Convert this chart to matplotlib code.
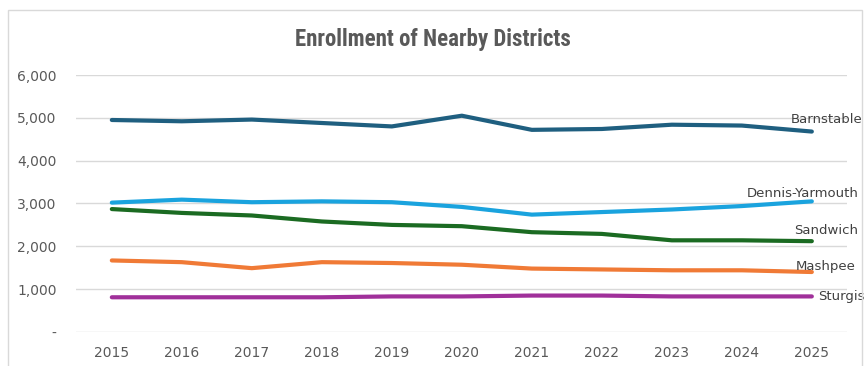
import matplotlib
matplotlib.use("Agg")
import matplotlib.pyplot as plt
from matplotlib.patches import Rectangle
from matplotlib.ticker import FuncFormatter

years = list(range(2015, 2026))
barnstable = [4950, 4920, 4960, 4880, 4800, 5050, 4720, 4740, 4840, 4820, 4680]
dennis_yarmouth = [3020, 3090, 3030, 3050, 3030, 2920, 2740, 2800, 2860, 2940, 3050]
sandwich = [2870, 2780, 2720, 2580, 2500, 2470, 2330, 2290, 2140, 2140, 2120]
mashpee = [1670, 1630, 1490, 1630, 1610, 1570, 1480, 1460, 1440, 1440, 1400]
sturgis = [810, 810, 810, 810, 830, 830, 850, 850, 830, 830, 830]

series = [
    ("Barnstable", barnstable, "#1f5f80", (15, 12), "center"),
    ("Dennis-Yarmouth", dennis_yarmouth, "#1aa3de", (-9, 8), "center"),
    ("Sandwich", sandwich, "#1b6b22", (14, 11), "center"),
    ("Mashpee", mashpee, "#f07a36", (14, 6), "center"),
    ("Sturgis", sturgis, "#a0309a", (6, 0), "left"),
]

fig = plt.figure(figsize=(8.65, 3.66), dpi=100)
ax = fig.add_axes([0.088, 0.093, 0.891, 0.702])

for name, vals, col, off, ha in series:
    ax.plot(years, vals, color=col, linewidth=3, solid_capstyle="round")
    ax.annotate(name, (years[-1], vals[-1]), xytext=off, textcoords="offset pixels",
                ha=ha, va="center", fontsize=9.5, color="#404040")

ax.set_xlim(2014.49, 2025.5)
ax.set_ylim(0, 6000)
ax.set_yticks(range(0, 6001, 1000))
ax.set_xticks(years)
ax.yaxis.set_major_formatter(FuncFormatter(lambda v, p: "-" if v == 0 else f"{int(v):,}"))
ax.grid(axis="y", color="#d9d9d9", linewidth=1)
ax.set_axisbelow(True)
for s in ax.spines.values():
    s.set_visible(False)
ax.tick_params(length=0, labelsize=10, labelcolor="#595959")
ax.tick_params(axis="y", pad=14)
ax.tick_params(axis="x", pad=10)

fig.text(0.5, 0.893, "Enrollment of Nearby Districts", ha="center", va="center",
         fontsize=16.5, fontweight="bold", color="#595959", family=["Roboto Condensed", "Roboto", "DejaVu Sans"])

fig.patches.append(Rectangle((8 / 865, -0.05), 854 / 865, 1.05 - 10 / 366, transform=fig.transFigure,
                             fill=False, edgecolor="#d9d9d9", linewidth=1))

fig.savefig("out.png", dpi=100)
